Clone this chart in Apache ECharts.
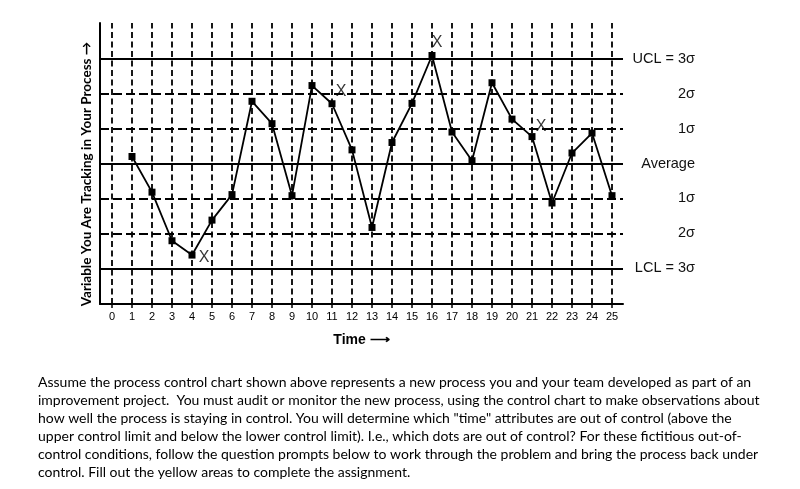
<!DOCTYPE html>
<html><head><meta charset="utf-8">
<script src="https://cdn.jsdelivr.net/npm/echarts@6/dist/echarts.min.js"></script>
<style>html,body{margin:0;padding:0;background:#fff}#c{width:800px;height:489px}</style>
</head><body><div id="c"></div>
<script>
const times = [1,2,3,4,5,6,7,8,9,10,11,12,13,14,15,16,17,18,19,20,21,22,23,24,25];
const values = [0.20,-0.82,-2.21,-2.62,-1.62,-0.89,1.78,1.14,-0.92,2.23,1.71,0.39,-1.83,0.60,1.72,3.09,0.90,0.08,2.31,1.27,0.77,-1.13,0.30,0.87,-0.92];
const xTicks = [0,1,2,3,4,5,6,7,8,9,10,11,12,13,14,15,16,17,18,19,20,21,22,23,24,25];
const sigmaLevels = [3,2,1,0,-1,-2,-3];
const sigmaLabels = ['UCL = 3σ','2σ','1σ','Average','1σ','2σ','LCL = 3σ'];
const outOfControlTimes = [4,11,16,21];
const yAxisTitle = 'Variable You Are Tracking in Your Process →';
const xAxisTitle = 'Time ⟶';
const paragraphLines = [
  'Assume the process control chart shown above represents a new process you and your team developed as part of an',
  'improvement project.  You must audit or monitor the new process, using the control chart to make observations about',
  'how well the process is staying in control. You will determine which "time" attributes are out of control (above the',
  'upper control limit and below the lower control limit). I.e., which dots are out of control? For these fictitious out-of-',
  'control conditions, follow the question prompts below to work through the problem and bring the process back under',
  'control. Fill out the yellow areas to complete the assignment.'
];

const markOffsets = [[12,3],[9,-12],[5,-13],[9,-10]];
const ARIAL = '"Liberation Sans", Arial, sans-serif';

const chart = echarts.init(document.getElementById('c'));
chart.setOption({
  animation: false,
  backgroundColor: '#fff',
  grid: { left: 100, top: 23, right: 177, bottom: 185 },
  xAxis: {
    type: 'value', min: -0.6, max: 25.55,
    axisLine: { show: true, onZero: false, lineStyle: { color: '#000', width: 2 } },
    axisTick: { show: true, customValues: xTicks, length: 4, lineStyle: { color: '#000', width: 1.5 } },
    axisLabel: { customValues: xTicks, fontSize: 11, color: '#000', margin: 7, fontFamily: ARIAL },
    splitLine: { show: false },
    name: xAxisTitle, nameLocation: 'middle', nameGap: 29,
    nameTextStyle: { fontSize: 14, color: '#000', fontFamily: ARIAL, fontWeight: 'bold' }
  },
  yAxis: [{
    type: 'value', min: -4.02, max: 4.02,
    axisLine: { show: true, onZero: false, lineStyle: { color: '#000', width: 2 } },
    axisTick: { show: false }, axisLabel: { show: false }, splitLine: { show: false }
  }, {
    type: 'value', min: -4.02, max: 4.02, position: 'right',
    axisLine: { show: false }, axisTick: { show: false }, splitLine: { show: false },
    axisLabel: {
      customValues: sigmaLevels, align: 'right', margin: 72, fontSize: 14.5, color: '#111', fontFamily: ARIAL,
      formatter: v => sigmaLabels[sigmaLevels.indexOf(Math.round(v))]
    }
  }],
  graphic: [{
    type: 'text', x: 87, y: 174, rotation: Math.PI / 2,
    style: { text: yAxisTitle, align: 'center', verticalAlign: 'middle', fill: '#000',
      font: 'bold 13.5px Lato, sans-serif' }
  }, {
    type: 'text', left: 38, top: 373,
    style: { text: paragraphLines.join('\n'), fill: '#000', font: '14px Lato, sans-serif', lineHeight: 18 }
  }],
  series: [{
    type: 'line', data: [], silent: true,
    markLine: {
      silent: true, symbol: 'none', label: { show: false },
      data: xTicks.map(v => ({ xAxis: v })),
      lineStyle: { color: '#000', width: 1.8, type: [6, 3.5] }
    }
  }, {
    type: 'line', data: [], silent: true,
    markLine: {
      silent: true, symbol: 'none', label: { show: false },
      data: sigmaLevels.map(v => ({ yAxis: v, lineStyle: { color: '#000', width: 2, type: v % 3 === 0 ? 'solid' : [9, 4] } }))
    }
  }, {
    type: 'line', z: 5,
    data: times.map((t, i) => [t, values[i]]),
    symbol: 'rect', symbolSize: 7,
    lineStyle: { color: '#000', width: 1.8 },
    itemStyle: { color: '#000' }
  }, {
    type: 'scatter', z: 6, symbolSize: 0,
    data: outOfControlTimes.map((t, i) => ({ value: [t, values[t - 1]], label: { offset: markOffsets[i] } })),
    label: { show: true, position: 'inside', formatter: 'X', fontSize: 16, color: '#000', fontFamily: ARIAL }
  }]
});
</script></body></html>
